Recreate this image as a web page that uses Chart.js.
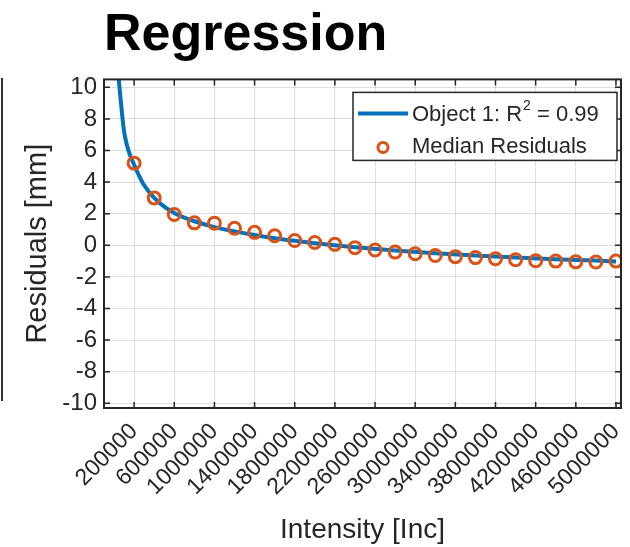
<!DOCTYPE html>
<html>
<head>
<meta charset="utf-8">
<script src="https://cdn.jsdelivr.net/npm/chart.js@4.4.1/dist/chart.umd.min.js"></script>
<style>
  html, body { margin: 0; padding: 0; background: #fff; }
  #wrap { position: relative; width: 630px; height: 547px; }
  /* edge of the neighbouring subplot, cut off in the source figure */
  #neighbour { position: absolute; left: 1px; top: 78px; height: 323px; border-left: 2px solid #333; }
</style>
</head>
<body>
<div id="wrap">
  <canvas id="chart" width="630" height="547"></canvas>
  <div id="neighbour"></div>
</div>
<script>
// fitted curve
const fitX = [40000, 60000, 80000, 100000, 130000, 160000, 200000, 250000, 300000, 400000,
  500000, 600000, 700000, 800000, 1000000, 1200000, 1400000, 1600000, 1800000, 2000000,
  2200000, 2400000, 2800000, 3200000, 3600000, 4000000, 4400000, 4800000, 5000000];
const fitY = [11.0, 9.6, 8.3, 7.2, 6.3, 5.7, 5.1, 4.4, 3.8, 3.0,
  2.45, 2.05, 1.75, 1.52, 1.15, 0.88, 0.65, 0.45, 0.28, 0.13,
  0.0, -0.12, -0.33, -0.5, -0.65, -0.78, -0.88, -0.97, -1.02];

// median residuals
const residX = [200000, 400000, 600000, 800000, 1000000, 1200000, 1400000, 1600000, 1800000,
  2000000, 2200000, 2400000, 2600000, 2800000, 3000000, 3200000, 3400000, 3600000, 3800000,
  4000000, 4200000, 4400000, 4600000, 4800000, 5000000];
const residY = [5.2, 3.0, 1.95, 1.42, 1.4, 1.08, 0.82, 0.6, 0.3,
  0.18, 0.06, -0.15, -0.3, -0.43, -0.54, -0.65, -0.72, -0.78, -0.85,
  -0.92, -0.98, -1.0, -1.05, -1.06, -1.0];

const xTicks = [200000, 600000, 1000000, 1400000, 1800000, 2200000, 2600000,
  3000000, 3400000, 3800000, 4200000, 4600000, 5000000];
const yTicks = [-10, -8, -6, -4, -2, 0, 2, 4, 6, 8, 10];

const FONT = 'Liberation Sans, Arial, sans-serif';
const INK = '#262626';
const GRID = 'rgba(0, 0, 0, 0.12)';

// legend drawn inside the axes, top right, like MATLAB's "northeast"
function drawLegend(chart) {
  const { ctx, chartArea: a } = chart;
  const fit = chart.data.datasets[0];
  const med = chart.data.datasets[1];
  const w = 264, h = 68;
  const bx = a.right - w - 4, by = a.top + 13;

  ctx.save();
  ctx.fillStyle = '#fff';
  ctx.fillRect(bx, by, w, h);
  ctx.strokeStyle = INK;
  ctx.lineWidth = 1.5;
  ctx.strokeRect(bx, by, w, h);

  // row 1: line sample
  const r1 = by + 21, r2 = by + 55;
  ctx.strokeStyle = fit.borderColor;
  ctx.lineWidth = fit.borderWidth;
  ctx.beginPath();
  ctx.moveTo(bx + 5, r1);
  ctx.lineTo(bx + 55, r1);
  ctx.stroke();

  ctx.fillStyle = INK;
  ctx.textBaseline = 'middle';
  ctx.textAlign = 'left';
  const parts = fit.label.split('²');
  let tx = bx + 59;
  ctx.font = '22px ' + FONT;
  ctx.fillText(parts[0], tx, r1 + 2);
  tx += ctx.measureText(parts[0]).width;
  ctx.font = '14px ' + FONT;
  ctx.fillText('2', tx + 1, r1 - 7);
  tx += ctx.measureText('2').width + 1;
  ctx.font = '22px ' + FONT;
  ctx.fillText(parts[1], tx, r1 + 2);

  // row 2: marker sample
  ctx.strokeStyle = med.borderColor;
  ctx.lineWidth = med.borderWidth;
  ctx.beginPath();
  ctx.arc(bx + 30, r2, med.pointRadius - 1, 0, Math.PI * 2);
  ctx.stroke();
  ctx.fillText(med.label, bx + 59, r2);
  ctx.restore();
}

const framePlugin = {
  id: 'matlabFrame',
  afterDatasetsDraw(chart) {
    const { ctx, chartArea: a, scales: { x, y } } = chart;
    ctx.save();
    ctx.strokeStyle = INK;
    ctx.lineWidth = 1.5;
    ctx.beginPath();
    xTicks.forEach(v => {
      const px = x.getPixelForValue(v);
      ctx.moveTo(px, a.bottom); ctx.lineTo(px, a.bottom - 6);
      ctx.moveTo(px, a.top); ctx.lineTo(px, a.top + 6);
    });
    yTicks.forEach(v => {
      const py = y.getPixelForValue(v);
      ctx.moveTo(a.left, py); ctx.lineTo(a.left + 6, py);
      ctx.moveTo(a.right, py); ctx.lineTo(a.right - 6, py);
    });
    ctx.stroke();
    ctx.lineWidth = 2;
    ctx.strokeRect(a.left, a.top, a.width, a.height);
    ctx.restore();
    drawLegend(chart);
  }
};

new Chart(document.getElementById('chart'), {
  type: 'scatter',
  data: {
    datasets: [
      {
        type: 'line',
        label: 'Object 1: R² = 0.99',
        data: fitX.map((v, i) => ({ x: v, y: fitY[i] })),
        borderColor: '#0072BD',
        borderWidth: 4,
        pointRadius: 0,
        fill: false,
        cubicInterpolationMode: 'monotone',
        order: 2
      },
      {
        label: 'Median Residuals',
        data: residX.map((v, i) => ({ x: v, y: residY[i] })),
        borderColor: '#D95319',
        backgroundColor: 'rgba(0,0,0,0)',
        borderWidth: 3,
        pointRadius: 6,
        order: 1
      }
    ]
  },
  options: {
    responsive: false,
    animation: false,
    layout: { padding: { left: 0, right: 9, top: 0, bottom: 0 } },
    plugins: {
      legend: { display: false },
      tooltip: { enabled: false },
      title: {
        display: true,
        text: 'Regression',
        align: 'start',
        fullSize: false,
        color: '#000',
        font: { family: FONT, size: 52, weight: 'bold' },
        padding: { top: 4, bottom: 13 }
      }
    },
    scales: {
      x: {
        type: 'linear',
        min: -100000,
        max: 5050000,
        afterBuildTicks: s => { s.ticks = xTicks.map(v => ({ value: v })); },
        afterFit: s => { s.height = 139; s.paddingLeft = 0; s.paddingRight = 0; },
        border: { display: false },
        grid: { color: GRID, lineWidth: 1, drawTicks: false },
        ticks: {
          autoSkip: false,
          minRotation: 45,
          maxRotation: 45,
          padding: 10,
          color: INK,
          font: { family: FONT, size: 23 },
          callback: v => String(v)
        },
        title: {
          display: true,
          text: 'Intensity [Inc]',
          color: INK,
          font: { family: FONT, size: 28 },
          padding: 0
        }
      },
      y: {
        min: -10.3,
        max: 10.5,
        afterBuildTicks: s => { s.ticks = yTicks.map(v => ({ value: v })); },
        afterFit: s => { s.width = 104; s.paddingTop = 0; s.paddingBottom = 0; },
        border: { display: false },
        grid: { color: GRID, lineWidth: 1, drawTicks: false },
        ticks: {
          padding: 7,
          color: INK,
          font: { family: FONT, size: 24 },
          callback: v => String(v)
        },
        title: {
          display: true,
          text: 'Residuals [mm]',
          color: INK,
          font: { family: FONT, size: 29 },
          padding: 21
        }
      }
    }
  },
  plugins: [framePlugin]
});
</script>
</body>
</html>
